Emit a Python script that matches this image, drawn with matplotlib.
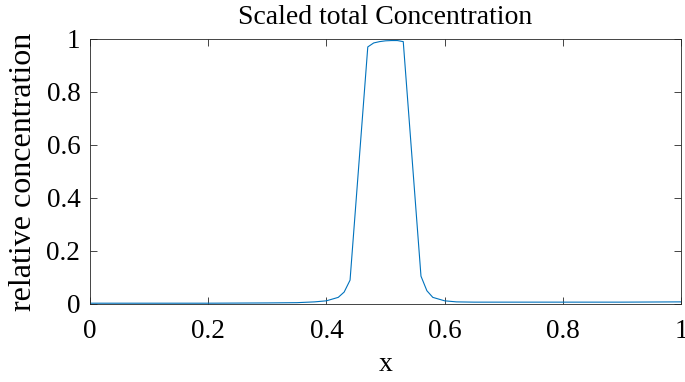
import numpy as np
import matplotlib
matplotlib.use("Agg")
import matplotlib.pyplot as plt

# Concentration profile
x = [0.0, 0.1, 0.2, 0.3, 0.35, 0.38, 0.40, 0.42, 0.43, 0.44,
     0.47, 0.48, 0.49, 0.50, 0.51, 0.52, 0.53,
     0.56, 0.57, 0.58, 0.60, 0.62, 0.65, 0.7, 0.8, 0.9, 1.0]
conc = [0.003, 0.003, 0.003, 0.004, 0.005, 0.008, 0.012, 0.025, 0.045, 0.09,
        0.97, 0.985, 0.99, 0.993, 0.994, 0.994, 0.99,
        0.105, 0.05, 0.025, 0.012, 0.008, 0.007, 0.007, 0.007, 0.007, 0.008]

xticks = [0, 0.2, 0.4, 0.6, 0.8, 1]
yticks = [0, 0.2, 0.4, 0.6, 0.8, 1]
tick_labels = ['0', '0.2', '0.4', '0.6', '0.8', '1']

plt.rcParams['font.family'] = ['Liberation Serif', 'DejaVu Serif']

fig = plt.figure(figsize=(6.85, 3.82), dpi=100)
ax = fig.add_axes([0.1314, 0.2042, 0.8628, 0.6938])
ax.plot(x, conc, color='#0072BD', linewidth=0.8)

ax.set_xlim(0, 1)
ax.set_ylim(0, 1)
ax.set_xticks(xticks)
ax.set_yticks(yticks)
ax.set_xticklabels(tick_labels)
ax.set_yticklabels(tick_labels)
ax.tick_params(direction='in', top=True, right=True, length=5, width=0.6,
               colors='#262626', labelsize=19.5, labelcolor='black')
ax.tick_params(axis='x', pad=10.5)
ax.tick_params(axis='y', pad=7)
for s in ax.spines.values():
    s.set_color('#262626')
    s.set_linewidth(0.6)

ax.set_title('Scaled total Concentration', fontsize=20, pad=10.5)
ax.set_xlabel('x', fontsize=20, labelpad=6)
ax.set_ylabel('relative concentration', fontsize=23, labelpad=6)

fig.savefig('out.png', dpi=100)
